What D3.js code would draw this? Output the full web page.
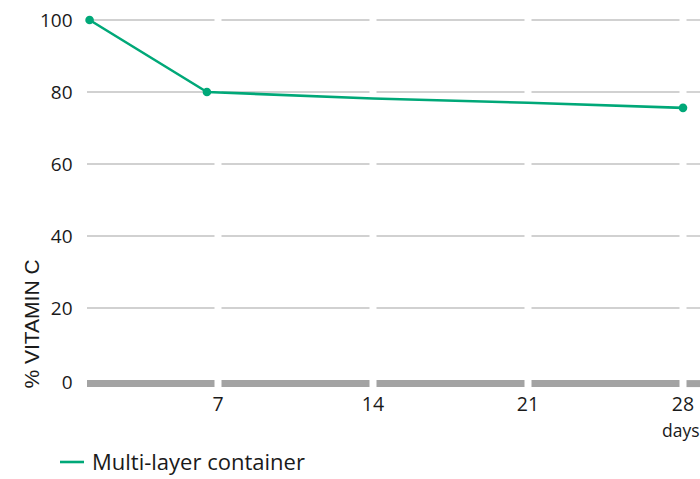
<!DOCTYPE html>
<html>
<head>
<meta charset="utf-8">
<script src="https://cdn.jsdelivr.net/npm/d3@7"></script>
<style>
  html, body { margin: 0; padding: 0; background: #fff; overflow: hidden; }
  svg { display: block; }
</style>
</head>
<body>
<svg id="chart" width="700" height="479"></svg>
<script>
// ---- data ----
const days = [1.2, 6.5, 14, 21, 28];
const vitaminC = [100, 80, 78.2, 77, 75.6];
const markerIdx = [0, 1, 4];
const xTicks = [7, 14, 21, 28];
const yTicks = [0, 20, 40, 60, 80, 100];
const seriesName = "Multi-layer container";
const yTitle = "% VITAMIN C";
const xUnit = "days";

// ---- layout ----
const W = 700, H = 479;
const plotLeft = 87, plotRight = 712;
const green = "#00a878";
const textColor = "#1a1a1a";
const fontSans = "'Open Sans', 'Noto Sans', sans-serif";

const svg = d3.select("#chart");
const x = d3.scaleLinear().domain([0, 28]).range([63, 683]);
const y = d3.scaleLinear().domain([0, 100]).range([380, 20]);

const gap = 3.5;
// segments of gridlines, broken at x tick positions
const breaks = [plotLeft, ...xTicks.map(t => x(t)), plotRight];
const segs = [];
for (let i = 0; i < breaks.length - 1; i++) {
  const a = i === 0 ? breaks[i] : breaks[i] + gap;
  const b = i === breaks.length - 2 ? breaks[i + 1] : breaks[i + 1] - gap;
  segs.push([a, b]);
}

// gridlines
yTicks.filter(v => v > 0).forEach(v => {
  svg.append("g").selectAll("line").data(segs).join("line")
    .attr("x1", d => d[0]).attr("x2", d => d[1])
    .attr("y1", y(v)).attr("y2", y(v))
    .attr("stroke", "#c2c2c2").attr("stroke-width", 1.4);
});
// zero bar
svg.append("g").selectAll("line").data(segs).join("line")
  .attr("x1", d => d[0]).attr("x2", d => d[1])
  .attr("y1", y(0) + 3.6).attr("y2", y(0) + 3.6)
  .attr("stroke", "#a3a3a3").attr("stroke-width", 7);

// y tick labels
svg.append("g").selectAll("text").data(yTicks).join("text")
  .attr("x", 72.5).attr("y", d => y(d) + (d === 0 ? 2 : 0))
  .attr("text-anchor", "end").attr("dominant-baseline", "central")
  .attr("font-family", fontSans).attr("font-size", 19)
  .attr("fill", textColor).text(d => d);

// x tick labels
svg.append("g").selectAll("text").data(xTicks).join("text")
  .attr("x", d => x(d)).attr("y", 411)
  .attr("text-anchor", "middle")
  .attr("font-family", fontSans).attr("font-size", 19.5)
  .attr("fill", textColor).text(d => d);

svg.append("text").attr("x", 662).attr("y", 437)
  .attr("font-family", fontSans).attr("font-size", 17.5)
  .attr("fill", textColor).text(xUnit);

// y title
svg.append("text")
  .attr("transform", "translate(38.5,324) rotate(-90)")
  .attr("text-anchor", "middle")
  .attr("font-family", "'Liberation Sans', Arial, sans-serif").attr("font-size", 21)
  .attr("fill", textColor).text(yTitle);

// line
const pts = days.map((d, i) => [d, vitaminC[i]]);
svg.append("path").datum(pts)
  .attr("d", d3.line().x(d => x(d[0])).y(d => y(d[1])))
  .attr("fill", "none").attr("stroke", green).attr("stroke-width", 2.6)
  .attr("stroke-linejoin", "round");
svg.append("g").selectAll("circle").data(markerIdx.map(i => pts[i])).join("circle")
  .attr("cx", d => x(d[0])).attr("cy", d => y(d[1])).attr("r", 4.3)
  .attr("fill", green);

// legend
svg.append("line").attr("x1", 60).attr("x2", 84).attr("y1", 462).attr("y2", 462)
  .attr("stroke", green).attr("stroke-width", 2.6);
svg.append("text").attr("x", 92).attr("y", 470)
  .attr("font-family", fontSans).attr("font-size", 22)
  .attr("fill", textColor).text(seriesName);
</script>
</body>
</html>
